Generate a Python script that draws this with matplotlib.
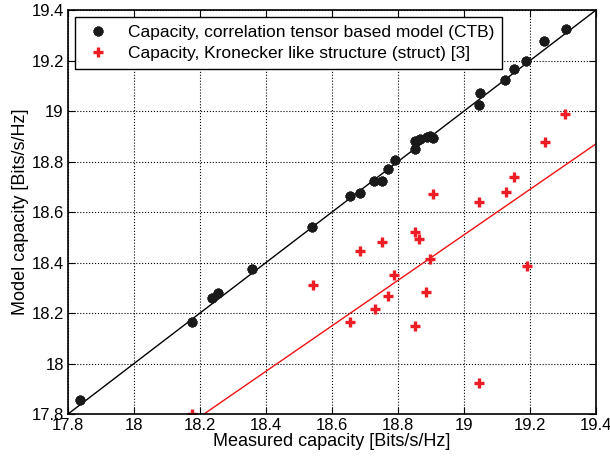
import numpy as np
import matplotlib
matplotlib.use('Agg')
import matplotlib.pyplot as plt
from matplotlib.ticker import FuncFormatter

plt.rcParams['font.family'] = ['Liberation Sans', 'DejaVu Sans']

# CTB model vs measured
ctb_x = [17.836, 18.176, 18.236, 18.255, 18.358, 18.539, 18.655, 18.685, 18.727, 18.752,
         18.770, 18.791, 18.852, 18.852, 18.867, 18.888, 18.897, 18.906, 19.045, 19.048,
         19.124, 19.152, 19.188, 19.242, 19.309]
ctb_y = [17.855, 18.164, 18.260, 18.279, 18.374, 18.541, 18.663, 18.675, 18.723, 18.723,
         18.770, 18.806, 18.850, 18.882, 18.889, 18.897, 18.900, 18.893, 19.024, 19.071,
         19.123, 19.166, 19.198, 19.277, 19.325]

# Kronecker struct model vs measured
kr_x = [18.176, 18.542, 18.655, 18.685, 18.730, 18.752, 18.770, 18.788, 18.852, 18.852,
        18.864, 18.885, 18.897, 18.906, 19.045, 19.045, 19.127, 19.152, 19.191, 19.245, 19.306]
kr_y = [17.800, 18.311, 18.164, 18.446, 18.216, 18.481, 18.267, 18.350, 18.149, 18.521,
        18.493, 18.283, 18.414, 18.671, 18.640, 17.923, 18.679, 18.739, 18.386, 18.877, 18.988]

ref_line = [17.8, 19.4]
fit_x = [18.212, 19.4]
fit_y = [17.8, 18.87]

fig = plt.figure(figsize=(6.1, 4.59), dpi=100)
ax = fig.add_axes([0.1115, 0.098, 0.8655, 0.880])

ax.plot(ref_line, ref_line, color='black', lw=1.0)
ax.plot(fit_x, fit_y, color='#ee1111', lw=1.0)
ax.plot(ctb_x, ctb_y, ls='none', marker=(8, 2, 0), ms=7, mew=2.3, color='#1a1a1a',
        label='Capacity, correlation tensor based model (CTB)')
ax.plot(kr_x, kr_y, ls='none', marker='+', ms=7.5, mew=2.4, color='#ee1c25',
        label='Capacity, Kronecker like structure (struct) [3]')

ax.set_xlim(17.8, 19.4)
ax.set_ylim(17.8, 19.4)
ticks = [17.8, 18, 18.2, 18.4, 18.6, 18.8, 19, 19.2, 19.4]
ax.set_xticks(ticks)
ax.set_yticks(ticks)
fmt = FuncFormatter(lambda v, p: '%g' % round(v, 2))
ax.xaxis.set_major_formatter(fmt)
ax.yaxis.set_major_formatter(fmt)
ax.tick_params(direction='in', length=5, labelsize=12, top=True, right=True, pad=3)
ax.grid(True, ls=':', color='black', lw=0.8)
for s in ax.spines.values():
    s.set_linewidth(1.2)

ax.set_xlabel('Measured capacity [Bits/s/Hz]', fontsize=13, labelpad=0)
ax.set_ylabel('Model capacity [Bits/s/Hz]', fontsize=13, labelpad=2)

leg = ax.legend(loc='upper left', fontsize=12.5, fancybox=False, framealpha=1,
                edgecolor='black', borderaxespad=0.4, handlelength=1.8,
                borderpad=0.45, labelspacing=0.35, handletextpad=0.8)
leg.get_frame().set_linewidth(1.0)

fig.savefig('out.png', dpi=100)
